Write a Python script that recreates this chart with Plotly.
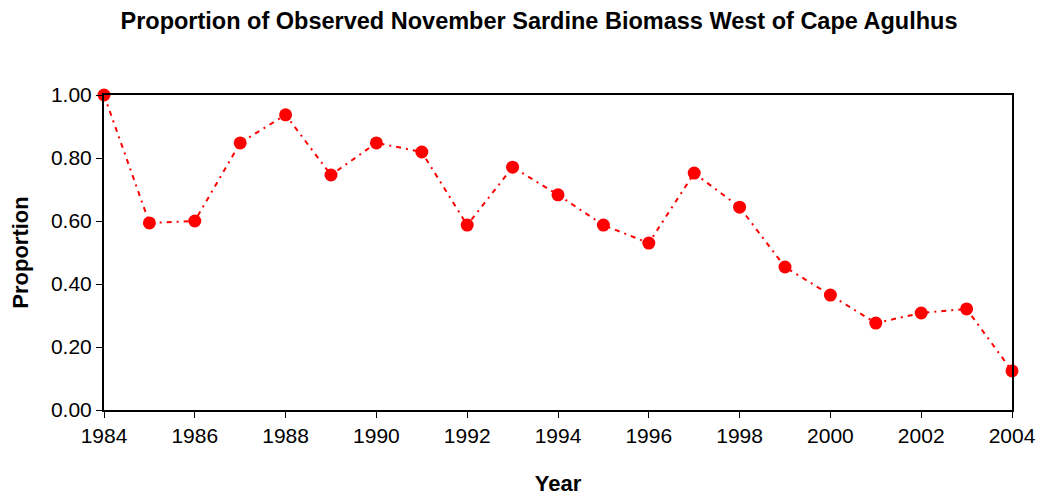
import plotly.graph_objects as go

years = list(range(1984, 2005))
proportion = [1.00, 0.594, 0.600, 0.848, 0.937, 0.746, 0.848, 0.819, 0.587, 0.771,
              0.683, 0.587, 0.530, 0.752, 0.644, 0.454, 0.365, 0.276, 0.308, 0.321, 0.124]
x_ticks = list(range(1984, 2005, 2))
y_ticks = [0.0, 0.2, 0.4, 0.6, 0.8, 1.0]

fig = go.Figure()
fig.add_trace(go.Scatter(
    x=years, y=proportion, mode="lines+markers",
    line=dict(color="#ff0000", width=2, dash="5px,5px,2px,5px"),
    marker=dict(color="#ff0000", size=13),
    showlegend=False, cliponaxis=False,
))

font_family = "Liberation Sans, Arial, sans-serif"
fig.update_layout(
    width=1039, height=497,
    margin=dict(l=104, r=27, t=95, b=87),
    paper_bgcolor="white", plot_bgcolor="white",
    font=dict(family=font_family, color="black", size=21),
    title=dict(text="<b>Proportion of Observed November Sardine Biomass West of Cape Agulhus</b>",
               x=539 / 1039, xanchor="center", y=1 - 21 / 497, yanchor="middle",
               font=dict(size=23.5, family=font_family)),
)
fig.update_xaxes(
    range=[1984, 2004], tickvals=x_ticks, ticktext=[str(v) for v in x_ticks],
    ticks="outside", ticklen=6, tickwidth=1, tickcolor="black",
    showline=True, linecolor="black", linewidth=2, mirror=True,
    showgrid=False, zeroline=False, automargin=False,
    title=dict(text="<b>Year</b>", font=dict(size=22), standoff=29),
    tickfont=dict(size=21),
)
fig.update_yaxes(
    range=[0, 1.0], tickvals=y_ticks, ticktext=[f"{v:.2f}" for v in y_ticks],
    ticks="outside", ticklen=6, tickwidth=1, tickcolor="black",
    showline=True, linecolor="black", linewidth=2, mirror=True,
    showgrid=False, zeroline=False, automargin=False,
    title=dict(text="<b>Proportion</b>", font=dict(size=22), standoff=16),
    tickfont=dict(size=21),
)
fig.write_html("out.html", config={"displayModeBar": False},
               post_script="document.body.style.margin='0';document.body.style.overflow='hidden';")
